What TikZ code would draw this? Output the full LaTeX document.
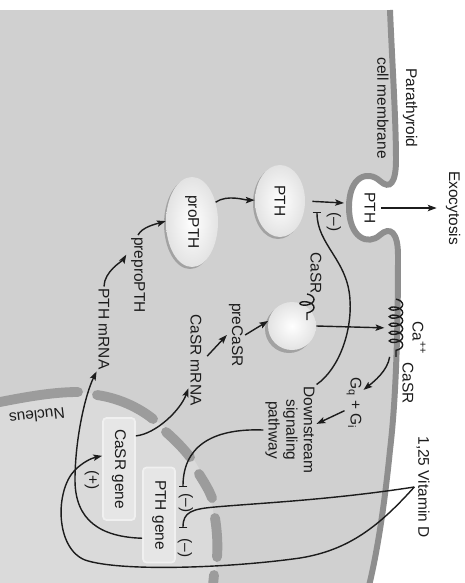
\documentclass[tikz,border=0pt]{standalone}
\usepackage{fontspec}
\setmainfont{Liberation Sans}
\usetikzlibrary{positioning, arrows.meta, decorations.pathmorphing, shapes.geometric}
\definecolor{ink}{HTML}{1C1C1C}
\definecolor{cyto}{HTML}{D0D0D0}
\definecolor{karyo}{HTML}{DADADA}
\definecolor{membr}{HTML}{8E8E8E}
\definecolor{envel}{HTML}{9C9C9C}
\definecolor{genefill}{HTML}{E6E6E6}
\definecolor{blobdark}{HTML}{A2A2A2}

\newcommand\lblfont{\fontsize{8.8}{10}\selectfont}

\tikzset{
  lbl/.style={font=\lblfont, text=ink, inner sep=1pt, rotate=-90},
  blob/.style={ellipse, inner sep=0pt, rotate=-90, font=\lblfont, text=ink,
    shading=radial, inner color=white, outer color=gray!22},
  genebox/.style={rectangle, rounded corners=2pt, fill=genefill, draw=genefill!60!white,
    line width=1pt, inner sep=0pt, rotate=-90, font=\lblfont, text=ink, minimum height=0.64cm},
  arr/.style={draw=ink, line width=0.8pt, -{Stealth[length=5pt,width=3.6pt,inset=1pt]}},
  inh/.style={draw=ink, line width=0.8pt, -{Bar[width=5pt]}},
  envseg/.style={draw=envel, line width=5.6pt, line cap=round},
}

\begin{document}
\begin{tikzpicture}[x=0.02cm, y=-0.02cm]
  \useasboundingbox (0,0) rectangle (465,583);
  \fill[white] (0,0) rectangle (465,583);

  % cytoplasm, bounded by the membrane with the secretory pit
  \fill[cyto] (0,10) -- (390,10) .. controls (392,60) and (396,120) .. (396,160)
    .. controls (396,183) and (390,190) .. (380,181)
    .. controls (368,170) and (349,176) .. (349,207)
    .. controls (349,238) and (368,246) .. (380,235)
    .. controls (390,226) and (398,232) .. (398,255)
    .. controls (398,330) and (396,400) .. (390,450)
    .. controls (385,500) and (378,550) .. (368,590) -- (0,590) -- cycle;

  % nucleus
  \fill[karyo] (-5,404) .. controls (40,393) and (70,388) .. (100,395)
    .. controls (150,407) and (195,445) .. (208,490)
    .. controls (218,525) and (220,560) .. (212,600) -- (-5,600) -- cycle;
  \draw[envseg] (-5,403) .. controls (30,396) and (55,392) .. (78,392);
  \draw[envseg] (97,395) .. controls (118,398) and (138,407) .. (153,419);
  \draw[envseg] (166,432) .. controls (175,440) and (183,448) .. (190,457);
  \draw[envseg] (199,474) .. controls (204,482) and (209,490) .. (212,498);
  \draw[envseg] (215,518) .. controls (217,530) and (218,545) .. (217,557);
  \draw[envseg] (214,575) -- (212,595);

  % membrane
  \draw[membr, line width=3.4pt] (390,10) .. controls (392,60) and (396,120) .. (396,160)
    .. controls (396,183) and (390,190) .. (380,181)
    .. controls (368,170) and (349,176) .. (349,207)
    .. controls (349,238) and (368,246) .. (380,235)
    .. controls (390,226) and (398,232) .. (398,255)
    .. controls (398,330) and (396,400) .. (390,450)
    .. controls (385,500) and (378,550) .. (368,590);

  % shadows under the vesicles
  \fill[blobdark] (190,224) ellipse [x radius=0.52cm, y radius=0.9cm];
  \fill[blobdark] (278,203) ellipse [x radius=0.5cm, y radius=0.72cm];
  \fill[blobdark] (289,329) circle [radius=0.48cm];

  \node[lbl] (parat) at (410,108) {Parathyroid};
  \node[lbl] (cellmem) at (383,108) {cell membrane};
  \node[lbl] (exo) at (453,208) {Exocytosis};
  \node[lbl] (pitpth) at (370,208) {PTH};
  \node[blob, minimum width=1.44cm, minimum height=1.0cm] (pth) at (280,201) {PTH};
  \node[blob, minimum width=1.8cm, minimum height=1.04cm] (propth) at (192,222) {proPTH};
  \node[lbl] (prepro) at (138,275) {preproPTH};
  \node[lbl] (pthmrna) at (104,329) {PTH mRNA};
  \node[lbl] (casrmrna) at (196,360) {CaSR mRNA};
  \node[lbl] (precasr) at (236,335) {preCaSR};
  \node[circle, minimum size=0.96cm, inner sep=0pt, shading=radial,
    inner color=white, outer color=gray!22] (sphere) at (292,326) {};
  \node[lbl] (casrfold) at (316,273) {CaSR};
  \node[inner sep=0pt, minimum width=0.24cm, minimum height=1.14cm] (rcpt) at (396,328) {};
  \node[lbl] (calcium) at (419,338) {Ca\textsuperscript{++}};
  \node[lbl] (casrlbl) at (408,383) {CaSR};
  \node[lbl] (gprot) at (354,403) {G\textsubscript{q} + G\textsubscript{i}};
  \node[lbl, align=center] (down) at (290,430) {Downstream\\signaling\\pathway};
  \node[lbl] (vitd) at (423,487) {1,25 Vitamin D};
  \node[genebox, minimum width=2.04cm] (casrgene) at (119,469) {CaSR gene};
  \node[genebox, minimum width=1.9cm] (pthgene) at (159,515) {PTH gene};
  \node[lbl] (plus) at (92,480) {(+)};
  \node[lbl] (minus1) at (186,503) {(--)};
  \node[lbl] (minus2) at (185,548) {(--)};
  \node[lbl] (minus3) at (334,222) {(--)};
  \node[font=\lblfont, text=ink, rotate=187] (nuc) at (37,416) {Nucleus};

  \coordinate (pitin) at (344,203);
  \coordinate (topbar) at (317,212);
  \coordinate (barA) at (183,487);
  \coordinate (barB) at (183,528);

  % receptor in the membrane and folding protein
  \draw[ink, line width=0.8pt, decorate, decoration={coil, amplitude=3.8pt, segment length=4.6pt}]
    (rcpt.north) -- (rcpt.south);
  \draw[ink, line width=0.8pt, decorate, decoration={coil, amplitude=4pt, segment length=4.5pt}]
    (307,294) -- (307,320);

  % synthesis and secretion
  \draw[arr, shorten <=4pt] (pth.north) -- (pitin);
  \draw[arr, shorten <=2pt, shorten >=4pt] (pitpth.north) -- (exo.south);
  \draw[arr] (propth.130) .. controls +(12,-8) and +(-10,0) .. (pth.268);
  \draw[arr, shorten >=3pt] (pthmrna.west) .. controls +(0,-15) and +(-6,10) .. (prepro.200);
  \draw[arr] (prepro.west) .. controls +(4,-8) and +(-10,3) .. (propth.268);
  \draw[arr] (casrgene.153) .. controls +(20,-2) and +(-8,22) .. (casrmrna.345);
  \draw[arr, shorten <=3pt] (casrmrna.north) -- (precasr.south);
  \draw[arr] (precasr.north) -- (sphere.168);
  \draw[arr, shorten >=3pt] (sphere.east) -- (rcpt.west);

  % signalling
  \draw[arr] (rcpt.south west) .. controls +(-2,14) and +(10,-8) .. (gprot.144);
  \draw[arr] (gprot.309) -- (down.103);
  \draw[inh] (down.north west) .. controls (340,368) and (352,330) .. (350,300)
    .. controls (348,260) and (317,245) .. (topbar);
  \draw[inh] (down.south) .. controls (210,428) and (183,448) .. (barA);

  % vitamin D
  \draw[inh] (vitd.south) .. controls (330,500) and (260,503) .. (215,507)
    .. controls (192,509) and (183,512) .. (barB);
  \draw[arr] (vitd.south) .. controls (380,525) and (350,550) .. (300,558)
    .. controls (230,568) and (120,572) .. (85,560)
    .. controls (55,548) and (55,490) .. (75,470)
    .. controls (83,462) and (92,458) .. (casrgene.232);
  \draw[arr] (pthgene.324) .. controls (100,537) and (75,520) .. (75,480)
    .. controls (75,440) and (85,395) .. (pthmrna.south east);
\end{tikzpicture}
\end{document}
